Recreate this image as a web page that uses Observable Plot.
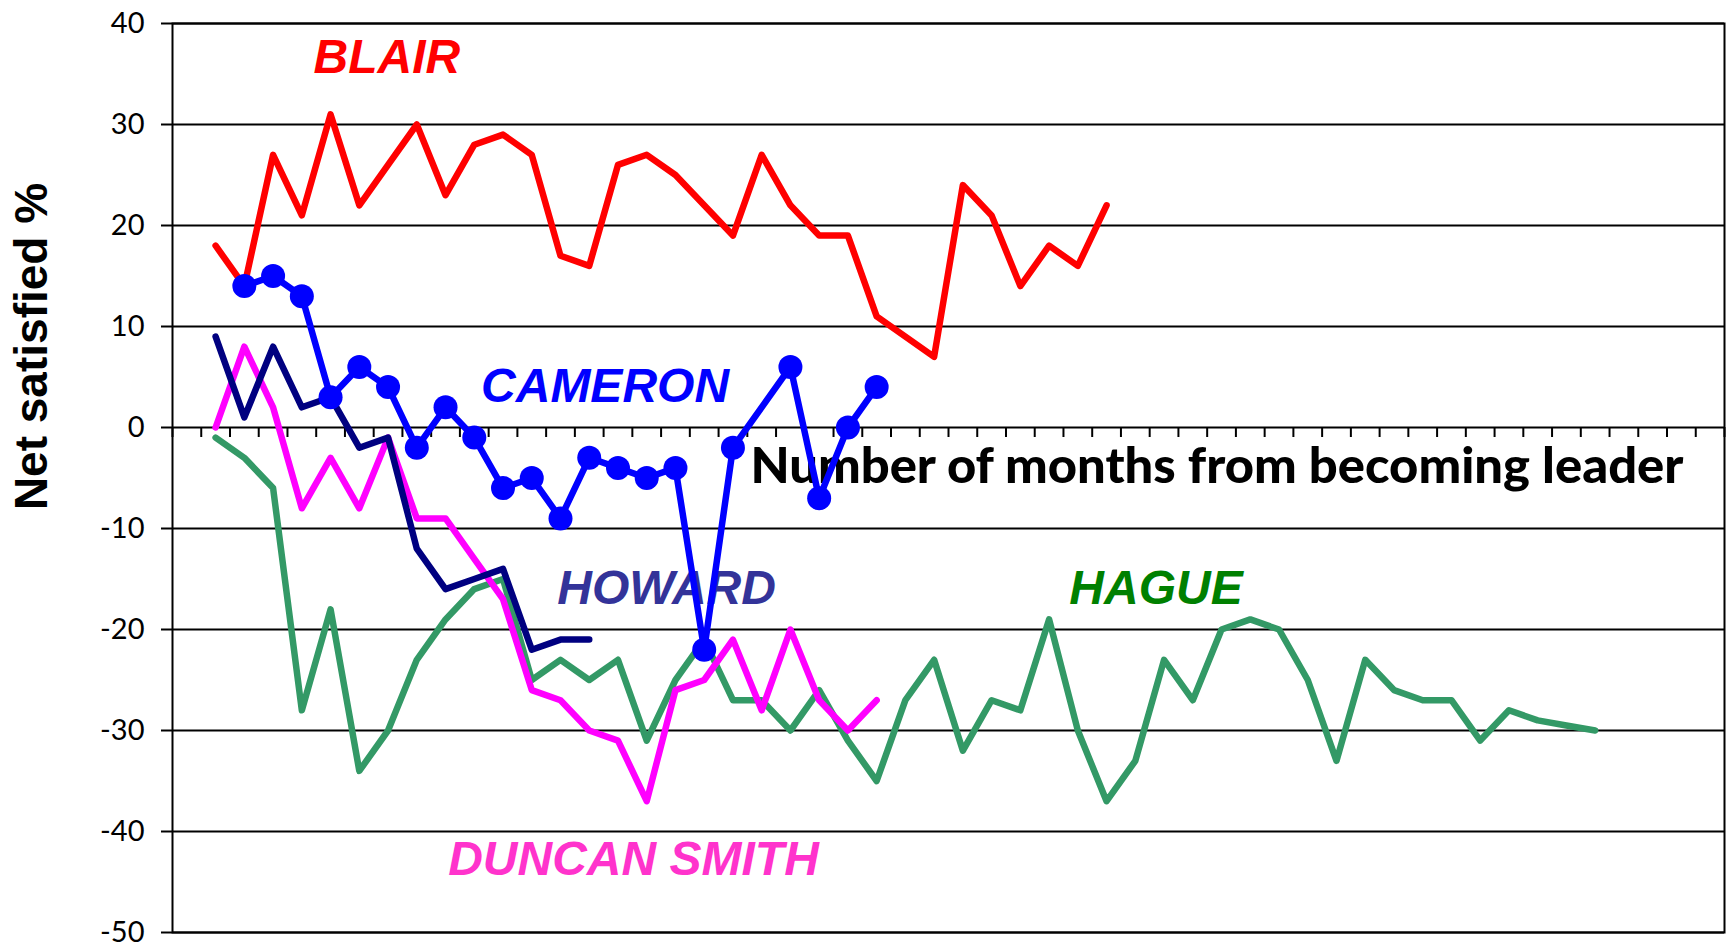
<!DOCTYPE html>
<html>
<head>
<meta charset="utf-8">
<script src="https://cdn.jsdelivr.net/npm/d3@7"></script>
<script src="https://cdn.jsdelivr.net/npm/@observablehq/plot@0.6"></script>
<style>
  html, body { margin: 0; padding: 0; background: #fff; }
  #chart { width: 1728px; height: 946px; overflow: hidden; }
</style>
</head>
<body>
<div id="chart"></div>
<script>
// ---- Data: net satisfied % by month from becoming leader (first value = month 1) ----
const blair = [18, 14, 27, 21, 31, 22, 26, 30, 23, 28, 29, 27, 17, 16, 26, 27, 25, 22, 19, 27,
               22, 19, 19, 11, 9, 7, 24, 21, 14, 18, 16, 22];
const cameron = [null, 14, 15, 13, 3, 6, 4, -2, 2, -1, -6, -5, -9, -3, -4, -5, -4, -22, -2, null,
                 6, -7, 0, 4];
const howard = [9, 1, 8, 2, 3, -2, -1, -12, -16, -15, -14, -22, -21, -21];
const duncanSmith = [0, 8, 2, -8, -3, -8, -1, -9, -9, -13, -17, -26, -27, -30, -31, -37, -26, -25, -21, -28,
                     -20, -27, -30, -27];
const hague = [-1, -3, -6, -28, -18, -34, -30, -23, -19, -16, -15, -25, -23, -25, -23, -31, -25, -21, -27, -27,
               -30, -26, -31, -35, -27, -23, -32, -27, -28, -19, -30, -37, -33, -23, -27, -20, -19, -20, -25, -33,
               -23, -26, -27, -27, -31, -28, -29, -29.5, -30];

const yTicks = [40, 30, 20, 10, 0, -10, -20, -30, -40, -50];
const monthCategories = d3.range(0, 54);               // category slots on the x axis
const xTickPositions = d3.range(-0.5, 54, 1);           // tick marks between categories

const yTitle = "Net satisfied %";
const xTitle = "Number of months from becoming leader";

const leaderNames = ["BLAIR", "CAMERON", "HOWARD", "HAGUE", "DUNCAN SMITH"];
const labelMonth = [6.96, 14.55, 16.69, 33.72, 15.54];
const labelValue = [35.07, 2.48, -17.44, -17.44, -44.29];
const labelColors = ["#FF0000", "#0000FF", "#333399", "#008000", "#FF33CC"];

// ---- Layout ----
const W = 1728, H = 946;
const mL = 172, mR = 4, mT = 23, mB = 14;
const tickPx = 10;
const lineW = 6.5;
const yUnitsPerPx = (d3.max(yTicks) - d3.min(yTicks)) / (H - mT - mB);

const rows = (values) => values.map((v, i) => ({month: i + 1, value: v})).filter(d => d.value != null);

const labelFont = {fontFamily: "Liberation Sans, Arial, sans-serif", fontSize: 48, fontWeight: "bold", fontStyle: "italic",
                   textAnchor: "middle", lineAnchor: "bottom"};

const plot = Plot.plot({
  width: W, height: H,
  marginLeft: mL, marginRight: mR, marginTop: mT, marginBottom: mB,
  style: {background: "#fff", fontFamily: "Lato, sans-serif", fontSize: "29px", color: "#000"},
  x: {domain: [d3.min(monthCategories) - 0.5, d3.max(monthCategories) + 0.5], axis: null},
  y: {domain: [d3.min(yTicks), d3.max(yTicks)], axis: null},
  marks: [
    Plot.ruleY(yTicks, {stroke: "#000", strokeWidth: 2}),
    Plot.ruleX(xTickPositions, {x: d => d, y1: 0, y2: -tickPx * yUnitsPerPx, stroke: "#000", strokeWidth: 2}),
    Plot.axisY(yTicks, {anchor: "left", tickSize: 11, tickPadding: 17, strokeWidth: 2,
      tickFormat: d => String(d), fontSize: 29, fontFamily: "Lato, sans-serif", label: null}),
    Plot.frame({stroke: "#000", strokeWidth: 2}),
    // leader labels
    ...leaderNames.map((name, i) => Plot.text([name], {
      x: () => labelMonth[i], y: () => labelValue[i], text: d => d, fill: labelColors[i], ...labelFont
    })),
    // x title
    Plot.text([xTitle], {x: () => 35.84, y: () => -5.45, text: d => d, fill: "#000",
      fontFamily: "Lato, sans-serif", fontSize: 50, fontWeight: 900, textAnchor: "middle", lineAnchor: "bottom"}),
    // y title
    Plot.text([yTitle], {frameAnchor: "top-left", dx: 32 - mL, dy: 346 - mT, rotate: -90, text: d => d, fill: "#000",
      fontFamily: "Liberation Sans, Arial, sans-serif", fontSize: 46, fontWeight: "bold",
      textAnchor: "middle", lineAnchor: "middle"}),
    // series
    Plot.line(rows(blair), {x: "month", y: "value", stroke: "#FF0000", strokeWidth: lineW}),
    Plot.line(rows(hague), {x: "month", y: "value", stroke: "#339966", strokeWidth: lineW}),
    Plot.line(rows(duncanSmith), {x: "month", y: "value", stroke: "#FF00FF", strokeWidth: lineW}),
    Plot.line(rows(howard), {x: "month", y: "value", stroke: "#000080", strokeWidth: lineW}),
    Plot.line(rows(cameron), {x: "month", y: "value", stroke: "#0000FF", strokeWidth: lineW}),
    Plot.dot(rows(cameron), {x: "month", y: "value", r: 12, fill: "#0000FF"})
  ]
});

document.getElementById("chart").append(plot);
for (const t of plot.querySelectorAll("text")) {
  if (t.textContent === xTitle) {
    t.setAttribute("textLength", 933);
    t.setAttribute("lengthAdjust", "spacingAndGlyphs");
  }
}
</script>
</body>
</html>
